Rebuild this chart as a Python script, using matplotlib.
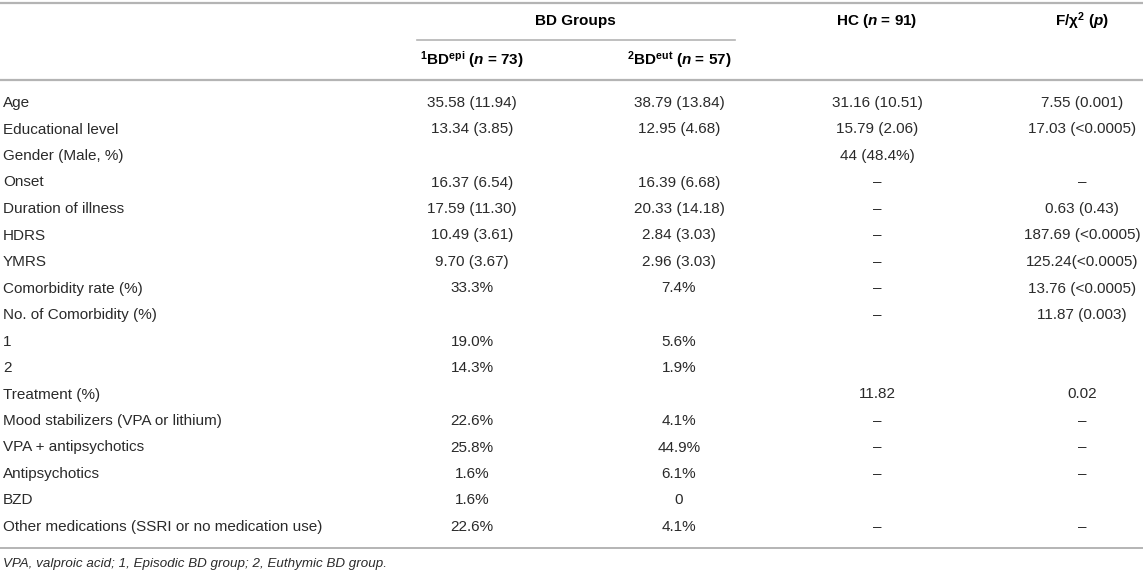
import matplotlib
matplotlib.use("Agg")
import matplotlib.pyplot as plt

plt.rcParams['font.family'] = ['Liberation Sans', 'DejaVu Sans']
plt.rcParams['mathtext.fontset'] = 'custom'
plt.rcParams['mathtext.rm'] = 'Liberation Sans'
plt.rcParams['mathtext.it'] = 'Liberation Sans:italic'
plt.rcParams['mathtext.bf'] = 'Liberation Sans:bold'
plt.rcParams['mathtext.bfit'] = 'Liberation Sans:italic:bold'

# table content
row_labels = ["Age", "Educational level", "Gender (Male, %)", "Onset", "Duration of illness",
              "HDRS", "YMRS", "Comorbidity rate (%)", "No. of Comorbidity (%)", "1", "2",
              "Treatment (%)", "Mood stabilizers (VPA or lithium)", "VPA + antipsychotics",
              "Antipsychotics", "BZD", "Other medications (SSRI or no medication use)"]
bd_epi = ["35.58 (11.94)", "13.34 (3.85)", "", "16.37 (6.54)", "17.59 (11.30)", "10.49 (3.61)",
          "9.70 (3.67)", "33.3%", "", "19.0%", "14.3%", "", "22.6%", "25.8%", "1.6%", "1.6%", "22.6%"]
bd_eut = ["38.79 (13.84)", "12.95 (4.68)", "", "16.39 (6.68)", "20.33 (14.18)", "2.84 (3.03)",
          "2.96 (3.03)", "7.4%", "", "5.6%", "1.9%", "", "4.1%", "44.9%", "6.1%", "0", "4.1%"]
hc = ["31.16 (10.51)", "15.79 (2.06)", "44 (48.4%)", "–", "–", "–", "–", "–", "–", "", "",
      "11.82", "–", "–", "–", "", "–"]
stat = ["7.55 (0.001)", "17.03 (<0.0005)", "", "–", "0.63 (0.43)", "187.69 (<0.0005)",
        "125.24(<0.0005)", "13.76 (<0.0005)", "11.87 (0.003)", "", "", "0.02", "–", "–", "–", "", "–"]

group_title = "BD Groups"
sub_headers = [r"$^{\mathbf{1}}$BD$^{\mathbf{epi}}$ ($\mathbfit{n}$ = 73)",
               r"$^{\mathbf{2}}$BD$^{\mathbf{eut}}$ ($\mathbfit{n}$ = 57)"]
top_headers = [r"HC ($\mathbfit{n}$ = 91)", r"F/χ$^{\mathbf{2}}$ ($\mathbfit{p}$)"]
footnote = "VPA, valproic acid; 1, Episodic BD group; 2, Euthymic BD group."

W, H = 1143, 574
col_x = [472, 679, 877, 1082]
row_y0 = 103
row_h = 26.5
line_col = '#b4b4b4'
txt_col = '#2a2a2a'
fs = 11

fig = plt.figure(figsize=(W / 100, H / 100), dpi=100)
ax = fig.add_axes([0, 0, 1, 1])
ax.set_xlim(0, W)
ax.set_ylim(H, 0)
ax.axis('off')

# rules
ax.plot([0, W], [3, 3], color=line_col, lw=1.6)
ax.plot([0, W], [80, 80], color=line_col, lw=1.6)
ax.plot([417, 735], [40, 40], color=line_col, lw=1.2)
ax.plot([0, W], [548, 548], color=line_col, lw=1.4)

# headers
ax.text((col_x[0] + col_x[1]) / 2, 21, group_title, ha='center', va='center',
        fontsize=fs, fontweight='bold', color='black')
for x, s in zip(col_x[:2], sub_headers):
    ax.text(x, 60, s, ha='center', va='center', fontsize=fs, fontweight='bold', color='black')
for x, s in zip(col_x[2:], top_headers):
    ax.text(x, 21, s, ha='center', va='center', fontsize=fs, fontweight='bold', color='black')

# body
for i, lab in enumerate(row_labels):
    y = row_y0 + i * row_h
    ax.text(3, y, lab, ha='left', va='center', fontsize=fs, color=txt_col)
    for x, col in zip(col_x, [bd_epi, bd_eut, hc, stat]):
        if col[i]:
            ax.text(x, y, col[i], ha='center', va='center', fontsize=fs, color=txt_col)

ax.text(3, 564, footnote, ha='left', va='center', fontsize=9.6, style='italic', color=txt_col)

fig.savefig('out.png', dpi=100)
